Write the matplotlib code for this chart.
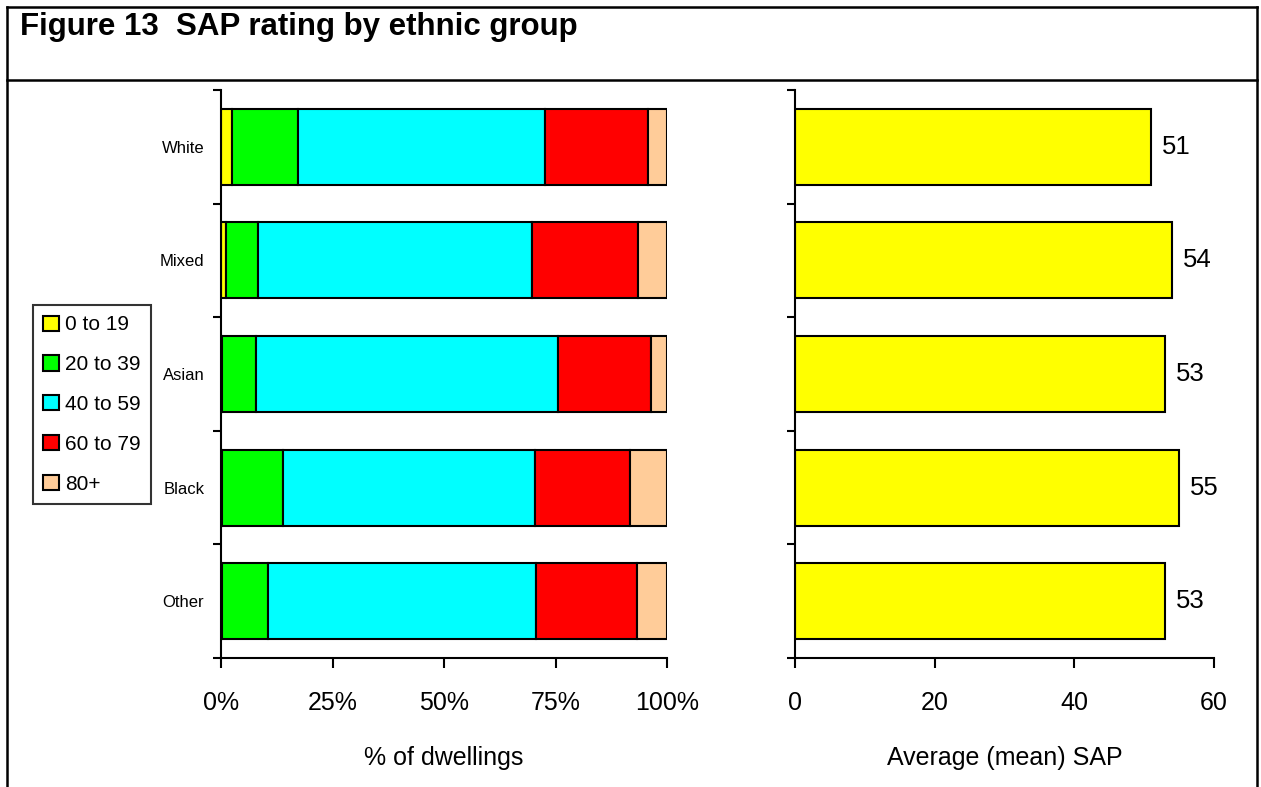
import matplotlib
matplotlib.use("Agg")
import matplotlib.pyplot as plt
from matplotlib.patches import Patch
from matplotlib.lines import Line2D
import numpy as np

plt.rcParams['font.family'] = ['Liberation Sans', 'DejaVu Sans']

groups = ["White", "Mixed", "Asian", "Black", "Other"]
bands = ["0 to 19", "20 to 39", "40 to 59", "60 to 79", "80+"]
band_colors = ["#FFFF00", "#00FF00", "#00FFFF", "#FF0000", "#FFCC99"]

share_0_19 = [2.5, 1.2, 0.3, 0.3, 0.2]
share_20_39 = [14.7, 7.2, 7.6, 13.6, 10.4]
share_40_59 = [55.4, 61.4, 67.7, 56.4, 60.0]
share_60_79 = [23.1, 23.7, 20.9, 21.4, 22.7]
share_80_plus = [4.3, 6.5, 3.5, 8.3, 6.7]

mean_sap = [51, 54, 53, 55, 53]

pct_ticks = [0, 25, 50, 75, 100]
pct_labels = ["0%", "25%", "50%", "75%", "100%"]
sap_ticks = [0, 20, 40, 60]

W, H = 1261, 787
fig = plt.figure(figsize=(W / 100, H / 100), dpi=100)

# outer frame and title separator
lw_frame = 1.8
def fline(x0, y0, x1, y1):
    fig.add_artist(Line2D([x0 / W, x1 / W], [1 - y0 / H, 1 - y1 / H],
                          color="black", lw=lw_frame, transform=fig.transFigure))
fline(6.5, 6.5, 1257, 6.5)
fline(6.5, 6.5, 6.5, 790)
fline(1257, 6.5, 1257, 790)
fline(6.5, 80, 1257, 80)

fig.text(20 / W, 1 - 35 / H, "Figure 13  SAP rating by ethnic group",
         fontsize=22.5, fontweight="bold", ha="left", va="baseline")

ax_top = 1 - 90 / H
ax_bot = 1 - 658 / H
axL = fig.add_axes([221 / W, ax_bot, (667 - 221) / W, ax_top - ax_bot])
axR = fig.add_axes([795 / W, ax_bot, (1214 - 795) / W, ax_top - ax_bot])

n = len(groups)
ypos = np.arange(n)[::-1]  # White on top
bar_h = 0.67

series = [share_0_19, share_20_39, share_40_59, share_60_79, share_80_plus]
left = np.zeros(n)
for vals, col, lab in zip(series, band_colors, bands):
    v = np.array(vals, dtype=float)
    axL.barh(ypos, v, left=left, height=bar_h, color=col, edgecolor="black",
             linewidth=1.5, label=lab)
    left += v

bars = axR.barh(ypos, mean_sap, height=bar_h, color="#FFFF00",
                edgecolor="black", linewidth=1.5)
axR.bar_label(bars, labels=[str(v) for v in mean_sap], padding=8, fontsize=18.5)

boundaries = np.arange(-0.5, n, 1.0)
for ax in (axL, axR):
    ax.set_ylim(-0.5, n - 0.5)
    ax.spines["top"].set_visible(False)
    ax.spines["right"].set_visible(False)
    ax.spines["left"].set_linewidth(1.5)
    ax.spines["bottom"].set_linewidth(1.5)
    ax.set_yticks(boundaries)
    ax.set_yticklabels([])
    ax.tick_params(axis="y", which="major", length=6, width=1.5, direction="out")
    ax.tick_params(axis="x", which="major", length=7, width=1.5, direction="out",
                   labelsize=18, pad=17)

axL.set_yticks(ypos, minor=True)
axL.set_yticklabels(groups, minor=True, fontsize=12)
axL.tick_params(axis="y", which="minor", length=0, pad=12)
axR.set_yticks(ypos, minor=True)
axR.set_yticklabels([], minor=True)
axR.tick_params(axis="y", which="minor", length=0)

axL.set_xlim(0, 100)
axL.set_xticks(pct_ticks)
axL.set_xticklabels(pct_labels)
axR.set_xlim(0, 60)
axR.set_xticks(sap_ticks)

axL.set_xlabel("% of dwellings", fontsize=18, labelpad=22)
axR.set_xlabel("Average (mean) SAP", fontsize=18, labelpad=22)

handles = [Patch(facecolor=c, edgecolor="black", linewidth=1.5) for c in band_colors]
leg = fig.legend(handles, bands, loc="upper left",
                 bbox_to_anchor=(33 / W, 1 - 305 / H), fontsize=15,
                 frameon=True, fancybox=False, edgecolor="black",
                 handlelength=0.75, handleheight=0.75, handletextpad=0.3,
                 labelspacing=1.0, borderpad=0.5, borderaxespad=0)
leg.get_frame().set_linewidth(1.5)

fig.savefig("out.png", dpi=100, facecolor="white")
